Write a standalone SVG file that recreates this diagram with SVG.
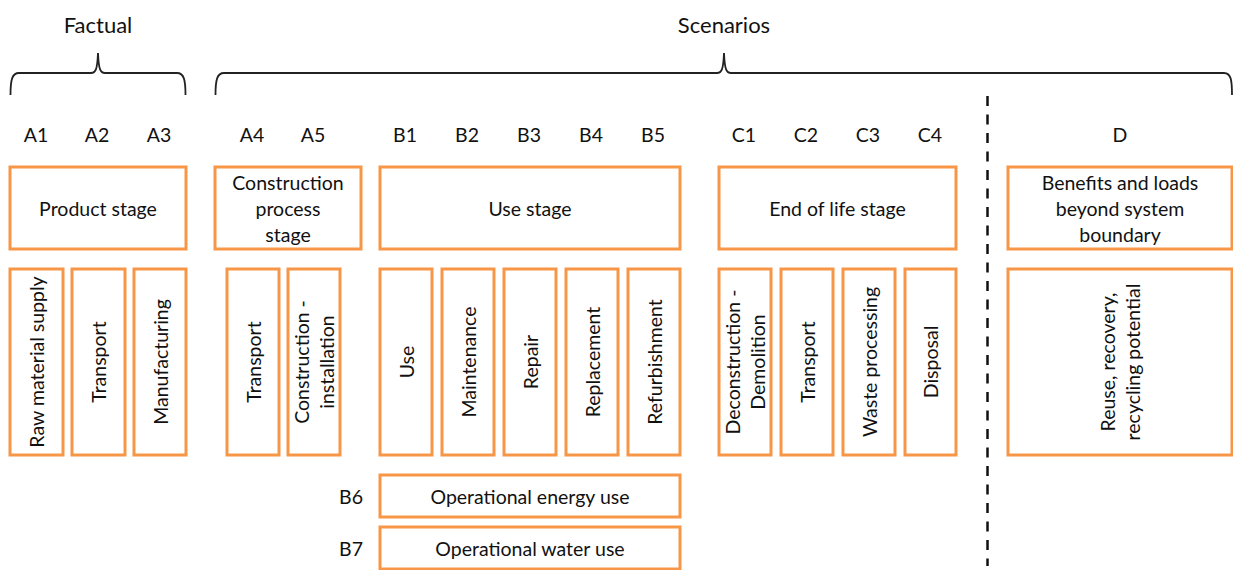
<svg xmlns="http://www.w3.org/2000/svg" width="1233" height="570" viewBox="0 0 1233 570">
  <style>
    .box { fill: #ffffff; stroke: #F79646; stroke-width: 3; }
    .t { font-family: Lato, "Liberation Sans", sans-serif; font-size: 19.5px; fill: #111111; text-anchor: middle; dominant-baseline: central; }
    .title { font-size: 22px; }
    .brace { fill: none; stroke: #222222; stroke-width: 1.8; }
    .divider { fill: none; stroke: #111111; stroke-width: 2.5; stroke-dasharray: 10 8.5; }
  </style>
  <rect width="1233" height="570" fill="#ffffff"/>

  <!-- group headings and braces -->
  <g id="headings">
    <text class="t title" x="98" y="24">Factual</text>
    <text class="t title" x="724" y="24">Scenarios</text>
    <path class="brace" d="M10.5,95 C10.5,80 12,73 19,73 L91,73 C95.5,73 97.3,70 98,53 C98.7,70 100.5,73 105,73 L177,73 C184,73 185.5,80 185.5,95"/>
    <path class="brace" d="M215.5,95 C215.5,80 217,73 224,73 L717,73 C721.5,73 723.3,70 724,53 C724.7,70 726.5,73 731,73 L1224,73 C1231,73 1232,80 1232,95"/>
  </g>

  <!-- module codes -->
  <g id="codes">
    <text class="t" x="36" y="134">A1</text>
    <text class="t" x="97" y="134">A2</text>
    <text class="t" x="159" y="134">A3</text>
    <text class="t" x="252" y="134">A4</text>
    <text class="t" x="313" y="134">A5</text>
    <text class="t" x="405" y="134">B1</text>
    <text class="t" x="467" y="134">B2</text>
    <text class="t" x="529" y="134">B3</text>
    <text class="t" x="591" y="134">B4</text>
    <text class="t" x="653" y="134">B5</text>
    <text class="t" x="744" y="134">C1</text>
    <text class="t" x="806" y="134">C2</text>
    <text class="t" x="868" y="134">C3</text>
    <text class="t" x="930" y="134">C4</text>
    <text class="t" x="1120" y="134">D</text>
    <text class="t" x="351" y="496">B6</text>
    <text class="t" x="351" y="548">B7</text>
  </g>

  <!-- stage boxes -->
  <g id="product-stage">
    <rect class="box" x="10" y="167" width="176" height="82"/>
    <text class="t" x="98" y="208">Product stage</text>
  </g>
  <g id="construction-stage">
    <rect class="box" x="215" y="167" width="146" height="82"/>
    <text class="t" x="288" y="182">Construction</text>
    <text class="t" x="288" y="208">process</text>
    <text class="t" x="288" y="234">stage</text>
  </g>
  <g id="use-stage">
    <rect class="box" x="380" y="167" width="300" height="82"/>
    <text class="t" x="530" y="208">Use stage</text>
  </g>
  <g id="end-of-life-stage">
    <rect class="box" x="719" y="167" width="237" height="82"/>
    <text class="t" x="837.5" y="208">End of life stage</text>
  </g>
  <g id="beyond-boundary">
    <rect class="box" x="1008" y="167" width="224" height="82"/>
    <text class="t" x="1120" y="182">Benefits and loads</text>
    <text class="t" x="1120" y="208">beyond system</text>
    <text class="t" x="1120" y="234">boundary</text>
  </g>

  <!-- module boxes (vertical labels) -->
  <g id="a1">
    <rect class="box" x="10" y="269" width="53" height="186"/>
    <text class="t" transform="translate(36.5,362) rotate(-90)">Raw material supply</text>
  </g>
  <g id="a2">
    <rect class="box" x="72" y="269" width="53" height="186"/>
    <text class="t" transform="translate(98.5,362) rotate(-90)">Transport</text>
  </g>
  <g id="a3">
    <rect class="box" x="134" y="269" width="52" height="186"/>
    <text class="t" transform="translate(160,362) rotate(-90)">Manufacturing</text>
  </g>
  <g id="a4">
    <rect class="box" x="227" y="269" width="52" height="186"/>
    <text class="t" transform="translate(253,362) rotate(-90)">Transport</text>
  </g>
  <g id="a5">
    <rect class="box" x="288" y="269" width="52" height="186"/>
    <text class="t" transform="translate(301.5,362) rotate(-90)">Construction -</text>
    <text class="t" transform="translate(326.5,362) rotate(-90)">installation</text>
  </g>
  <g id="b1">
    <rect class="box" x="380" y="269" width="52" height="186"/>
    <text class="t" transform="translate(406,362) rotate(-90)">Use</text>
  </g>
  <g id="b2">
    <rect class="box" x="442" y="269" width="52" height="186"/>
    <text class="t" transform="translate(468,362) rotate(-90)">Maintenance</text>
  </g>
  <g id="b3">
    <rect class="box" x="504" y="269" width="52" height="186"/>
    <text class="t" transform="translate(530,362) rotate(-90)">Repair</text>
  </g>
  <g id="b4">
    <rect class="box" x="566" y="269" width="52" height="186"/>
    <text class="t" transform="translate(592,362) rotate(-90)">Replacement</text>
  </g>
  <g id="b5">
    <rect class="box" x="628" y="269" width="52" height="186"/>
    <text class="t" transform="translate(654,362) rotate(-90)">Refurbishment</text>
  </g>
  <g id="c1">
    <rect class="box" x="719" y="269" width="52" height="186"/>
    <text class="t" transform="translate(732.5,362) rotate(-90)">Deconstruction -</text>
    <text class="t" transform="translate(757.5,362) rotate(-90)">Demolition</text>
  </g>
  <g id="c2">
    <rect class="box" x="781" y="269" width="52" height="186"/>
    <text class="t" transform="translate(807,362) rotate(-90)">Transport</text>
  </g>
  <g id="c3">
    <rect class="box" x="843" y="269" width="52" height="186"/>
    <text class="t" transform="translate(869,362) rotate(-90)">Waste processing</text>
  </g>
  <g id="c4">
    <rect class="box" x="905" y="269" width="51" height="186"/>
    <text class="t" transform="translate(930.5,362) rotate(-90)">Disposal</text>
  </g>
  <g id="d">
    <rect class="box" x="1008" y="269" width="224" height="186"/>
    <text class="t" transform="translate(1107.5,362) rotate(-90)">Reuse, recovery,</text>
    <text class="t" transform="translate(1132.5,362) rotate(-90)">recycling potential</text>
  </g>

  <!-- operational use boxes -->
  <g id="b6">
    <rect class="box" x="380" y="475" width="300" height="42"/>
    <text class="t" x="530" y="496">Operational energy use</text>
  </g>
  <g id="b7">
    <rect class="box" x="380" y="527" width="300" height="42"/>
    <text class="t" x="530" y="548">Operational water use</text>
  </g>

  <!-- system boundary divider -->
  <g id="connectors">
    <path class="divider" d="M987.5,96 L987.5,566"/>
  </g>
</svg>
